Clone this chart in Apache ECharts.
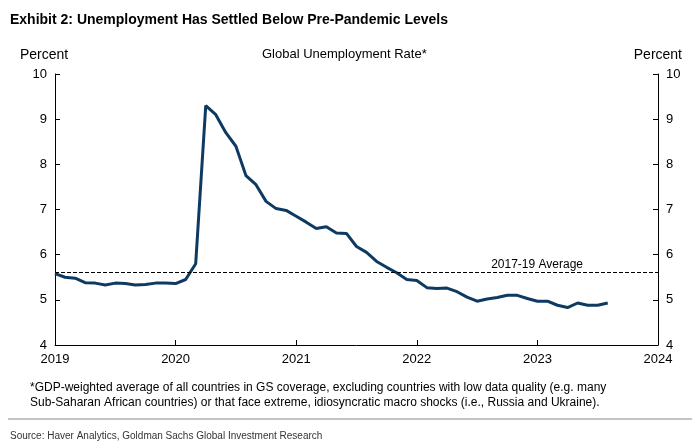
<!DOCTYPE html>
<html><head><meta charset="utf-8">
<script src="https://cdn.jsdelivr.net/npm/echarts@6/dist/echarts.min.js"></script>
<style>body{margin:0;background:#fff}#c{width:700px;height:447px}</style>
</head><body><div id="c"></div>
<script>
// monthly global unemployment rate, Jan 2019 onward
const rates = [5.58,5.5,5.48,5.38,5.37,5.33,5.37,5.36,5.33,5.34,5.37,5.37,
  5.36,5.45,5.8,9.3,9.1,8.7,8.4,7.75,7.55,7.18,7.02,6.98,
  6.85,6.72,6.58,6.62,6.48,6.47,6.18,6.05,5.85,5.72,5.6,5.45,
  5.43,5.27,5.25,5.26,5.18,5.06,4.97,5.02,5.05,5.1,5.1,5.03,
  4.97,4.97,4.88,4.83,4.93,4.88,4.88,4.93,4.93];
const data = rates.map((v, i) => [2019 + i / 12, v]);
const font = "Liberation Sans, Arial, sans-serif";
const E = echarts.init(document.getElementById("c"));
const yAxis = (pos) => ({
  type: 'value', position: pos, min: 4, max: 10, interval: 1,
  axisLine: {show: true, lineStyle: {color: '#000'}},
  axisTick: {show: true, inside: true, length: 5, lineStyle: {color: '#000'}},
  axisLabel: {color: '#000', fontSize: 13, fontFamily: font, margin: 8},
  splitLine: {show: false}
});
E.setOption({
  animation: false,
  grid: {left: 55, right: 42, top: 74, bottom: 102},
  xAxis: {
    type: 'value', min: 2019, max: 2024, interval: 1,
    axisLine: {lineStyle: {color: '#000'}},
    axisTick: {inside: true, length: 5, lineStyle: {color: '#000'}},
    axisLabel: {color: '#000', fontSize: 13, fontFamily: font, formatter: v => String(v)},
    splitLine: {show: false}
  },
  yAxis: [yAxis('left'), yAxis('right')],
  series: [{
    type: 'line', data: data.slice(0, 56), showSymbol: false,
    lineStyle: {color: '#0e3a62', width: 3},
    markLine: {
      silent: true, symbol: 'none',
      lineStyle: {color: '#000', type: 'dashed', width: 1},
      label: {position: 'insideEndTop', formatter: '2017-19 Average', color: '#000', fontSize: 12, fontFamily: font, distance: [75, 2]},
      data: [{yAxis: 5.6}]
    }
  }],
  graphic: [
    {type: 'text', left: 10, top: 13, style: {text: 'Exhibit 2: Unemployment Has Settled Below Pre-Pandemic Levels', font: 'bold 14px ' + font, fill: '#000'}},
    {type: 'text', left: 20, top: 48, style: {text: 'Percent', font: '14px ' + font, fill: '#000'}},
    {type: 'text', right: 18, top: 48, style: {text: 'Percent', font: '14px ' + font, fill: '#000'}},
    {type: 'text', left: 262, top: 48, style: {text: 'Global Unemployment Rate*', font: '13px ' + font, fill: '#000'}},
    {type: 'text', left: 30, top: 380, style: {text: '*GDP-weighted average of all countries in GS coverage, excluding countries with low data quality (e.g. many\nSub-Saharan African countries) or that face extreme, idiosyncratic macro shocks (i.e., Russia and Ukraine).', font: '12px ' + font, fill: '#000', lineHeight: 15}},
    {type: 'line', shape: {x1: 8, y1: 419, x2: 692, y2: 419}, style: {stroke: '#888', lineWidth: 1}},
    {type: 'text', left: 10, top: 431, style: {text: 'Source: Haver Analytics, Goldman Sachs Global Investment Research', font: '10px ' + font, fill: '#333'}}
  ]
});
</script></body></html>
